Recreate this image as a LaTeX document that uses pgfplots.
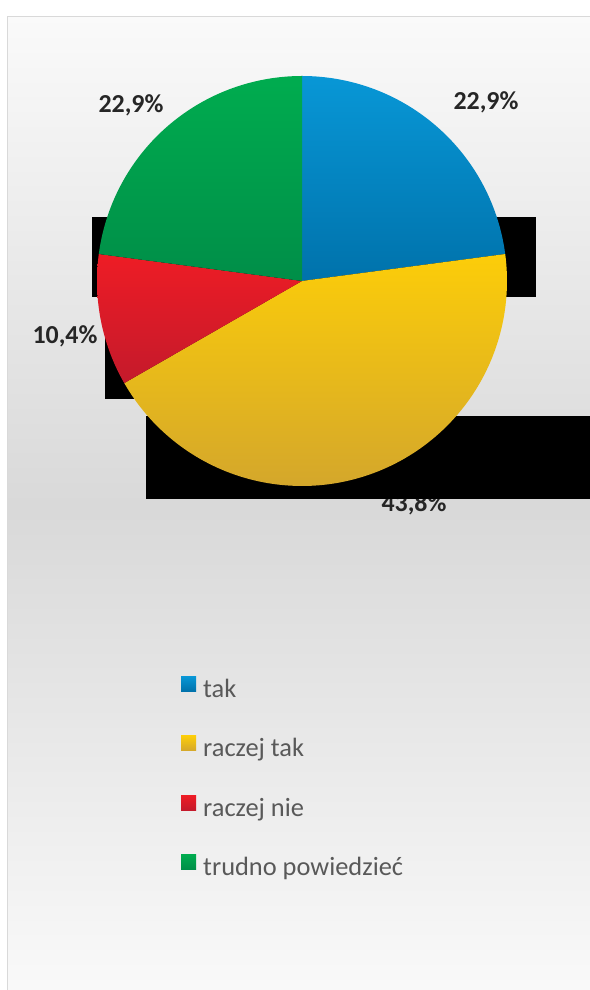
\documentclass[border=0pt]{standalone}
\usepackage{pgfplots}
\usepackage{pgfplotstable}
\pgfplotsset{compat=1.18}
\usepackage{fontspec}
\setmainfont{Carlito}
\definecolor{takA}{HTML}{0897D6}
\definecolor{takB}{HTML}{0072AB}
\definecolor{rtA}{HTML}{FCCD09}
\definecolor{rtB}{HTML}{D4A72B}
\definecolor{rnA}{HTML}{EE1C25}
\definecolor{rnB}{HTML}{C41A2B}
\definecolor{tpA}{HTML}{00AC4F}
\definecolor{tpB}{HTML}{008E48}
\definecolor{lbl}{HTML}{262626}
\definecolor{leg}{HTML}{595959}
\definecolor{frame}{HTML}{D9D9D9}

\pgfplotstableread{
label value
tak 22.9
raczejtak 43.8
raczejnie 10.4
trudno 22.9
}\piedata

\begin{document}
\begin{tikzpicture}[x=1bp,y=1bp]
% background panel
\shade[top color=white!98!black, bottom color=white!98!black, middle color=white!85!black]
  (7,-10) rectangle (600,973);
\draw[frame, line width=1.5bp] (7.5,-10) -- (7.5,973.25) -- (600,973.25);

\pgfplotstablegetelem{0}{value}\of\piedata \let\vA\pgfplotsretval
\pgfplotstablegetelem{1}{value}\of\piedata \let\vB\pgfplotsretval
\pgfplotstablegetelem{2}{value}\of\piedata \let\vC\pgfplotsretval
\pgfplotstablegetelem{3}{value}\of\piedata \let\vD\pgfplotsretval
\pgfmathsetmacro\aA{90}
\pgfmathsetmacro\aB{\aA-3.6*\vA}
\pgfmathsetmacro\aC{\aB-3.6*\vB}
\pgfmathsetmacro\aD{\aC-3.6*\vC}
\pgfmathsetmacro\aE{\aD-3.6*\vD}

\begin{axis}[
  at={(0,0)}, anchor=south west,
  width=590bp, height=990bp, scale only axis,
  xmin=0, xmax=590, ymin=0, ymax=990,
  hide axis, clip=false,
  legend style={
    at={(181/590,314/990)}, anchor=north west,
    draw=none, fill=none, inner sep=0pt,
    font=\fontsize{26.5}{30}\selectfont, text=leg,
    cells={anchor=west},
    nodes={inner sep=0pt, text height=19bp, text depth=6bp},
    row sep=32.5bp,
  },
  legend image code/.code={\fill[#1] (0bp,-0.5bp) rectangle (15bp,14.5bp); \path (22bp,0bp);},
]
\tikzset{lab/.style={font=\bfseries\fontsize{26}{30}\selectfont, text=lbl, anchor=base, inner sep=0pt}}
% label partially hidden by the box
\node[lab] at (axis cs:414,478) {43,8\%};
% black boxes
\fill[black] (axis cs:92,773) rectangle (axis cs:536,693);
\fill[black] (axis cs:105,693) rectangle (axis cs:420,591);
\fill[black] (axis cs:146,574) rectangle (axis cs:600,491);

\addplot[draw=none, top color=takA, bottom color=takB, domain=\aB:\aA, samples=80]
  ({302+205*cos(x)},{709+205*sin(x)}) -- (axis cs:302,709) -- cycle;
\addlegendentry{tak}
\addplot[draw=none, top color=rtA, bottom color=rtB, domain=\aC:\aB, samples=120]
  ({302+205*cos(x)},{709+205*sin(x)}) -- (axis cs:302,709) -- cycle;
\addlegendentry{raczej tak}
\addplot[draw=none, top color=rnA, bottom color=rnB, domain=\aD:\aC, samples=40]
  ({302+205*cos(x)},{709+205*sin(x)}) -- (axis cs:302,709) -- cycle;
\addlegendentry{raczej nie}
\addplot[draw=none, top color=tpA, bottom color=tpB, domain=\aE:\aD, samples=80]
  ({302+205*cos(x)},{709+205*sin(x)}) -- (axis cs:302,709) -- cycle;
\addlegendentry{trudno powiedzieć}

\node[lab] at (axis cs:486,880) {22,9\%};
\node[lab] at (axis cs:131,877.5) {22,9\%};
\node[lab] at (axis cs:65,646) {10,4\%};
\end{axis}
\pgfresetboundingbox
\useasboundingbox (0,0) rectangle (590,990);
\end{tikzpicture}
\end{document}
